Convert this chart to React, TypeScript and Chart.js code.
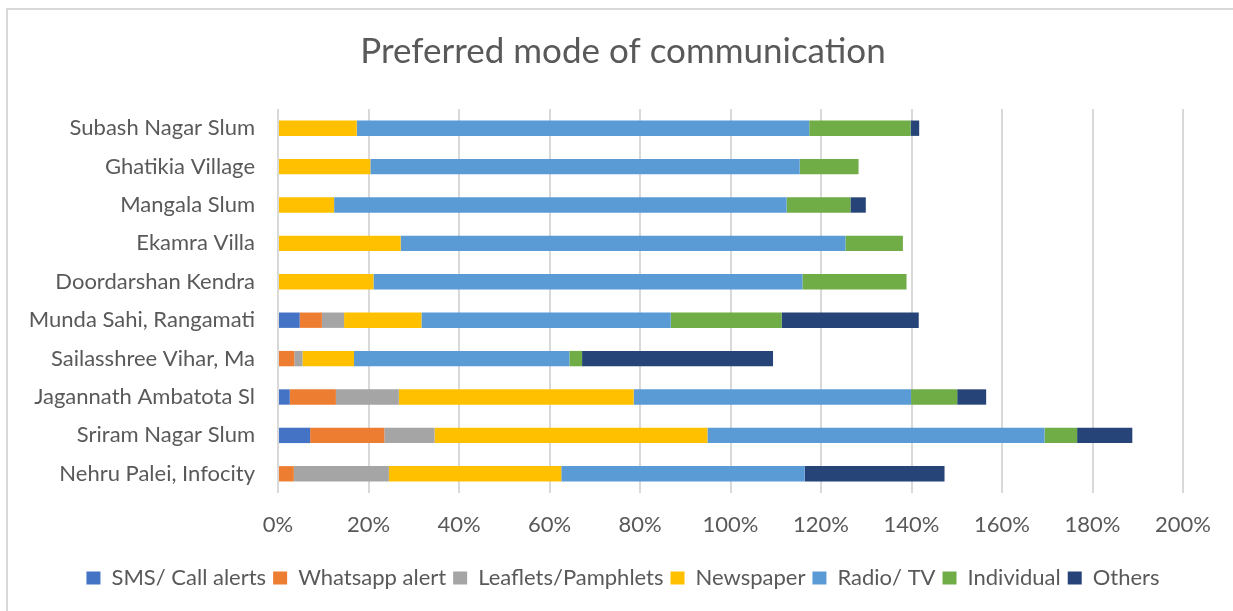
import React, { useEffect, useRef } from "react";
import { Chart, registerables } from "chart.js";

Chart.register(...registerables);

const categories = [
  "Subash Nagar Slum",
  "Ghatikia Village",
  "Mangala Slum",
  "Ekamra Villa",
  "Doordarshan Kendra",
  "Munda Sahi, Rangamati",
  "Sailasshree Vihar, Ma",
  "Jagannath Ambatota Sl",
  "Sriram Nagar Slum",
  "Nehru Palei, Infocity",
];

const smsCall = [0, 0, 0, 0, 0, 4.8, 0, 2.6, 7.1, 0];
const whatsapp = [0, 0, 0, 0, 0, 4.9, 3.6, 10.2, 16.4, 3.5];
const leaflets = [0, 0, 0, 0, 0, 4.9, 1.8, 13.9, 11.1, 21.0];
const newspaper = [17.4, 20.4, 12.4, 27.1, 21.1, 17.1, 11.4, 51.9, 60.3, 38.1];
const radioTv = [100.0, 94.9, 100.0, 98.3, 94.8, 55.1, 47.6, 61.3, 74.5, 53.8];
const individual = [22.4, 13.0, 14.1, 12.7, 23.0, 24.5, 2.8, 10.2, 7.2, 0];
const others = [1.9, 0, 3.4, 0, 0, 30.3, 42.2, 6.4, 12.2, 30.9];

const seriesNames = [
  "SMS/ Call alerts",
  "Whatsapp alert",
  "Leaflets/Pamphlets",
  "Newspaper",
  "Radio/ TV",
  "Individual",
  "Others",
];
const seriesColors = ["#4472C4", "#ED7D31", "#A5A5A5", "#FFC000", "#5B9BD5", "#70AD47", "#264478"];
const seriesValues = [smsCall, whatsapp, leaflets, newspaper, radioTv, individual, others];

const xMax = 200;
const xStep = 20;
const titleText = "Preferred mode of communication";

const FONT = "Lato, 'Liberation Sans', sans-serif";
const TEXT = "#595959";

export default function App() {
  const ref = useRef<HTMLCanvasElement | null>(null);

  useEffect(() => {
    if (!ref.current) return;
    const framePlugin = {
      id: "frame",
      beforeDraw(chart: any) {
        const ctx = chart.ctx;
        ctx.save();
        ctx.fillStyle = "#ffffff";
        ctx.fillRect(0, 0, chart.width, chart.height);
        ctx.strokeStyle = "#d9d9d9";
        ctx.lineWidth = 2;
        ctx.beginPath();
        ctx.moveTo(7, chart.height + 5);
        ctx.lineTo(7, 9);
        ctx.lineTo(chart.width + 5, 9);
        ctx.stroke();
        ctx.restore();
      },
    };
    const chart = new Chart(ref.current, {
      type: "bar",
      data: {
        labels: categories,
        datasets: seriesNames.map((name, i) => ({
          label: name,
          data: seriesValues[i],
          backgroundColor: seriesColors[i],
          borderWidth: 0,
          categoryPercentage: 1,
          barPercentage: 0.4,
        })),
      },
      plugins: [framePlugin],
      options: {
        indexAxis: "y",
        animation: false,
        responsive: true,
        maintainAspectRatio: false,
        layout: { padding: { left: 63, right: 50, top: 8, bottom: 12 } },
        scales: {
          x: {
            stacked: true,
            min: 0,
            max: xMax,
            ticks: {
              stepSize: xStep,
              padding: 19,
              color: TEXT,
              font: { family: FONT, size: 22 },
              callback: (v: any) => v + "%",
            },
            grid: { color: "#d9d9d9", lineWidth: 2, drawTicks: false },
            border: { display: false },
            afterFit: (s: any) => {
              s.height = 67;
            },
          },
          y: {
            stacked: true,
            ticks: {
              padding: 23,
              color: TEXT,
              font: { family: FONT, size: 22 },
              autoSkip: false,
            },
            grid: { display: false, drawTicks: false },
            border: { display: false },
            afterFit: (s: any) => {
              s.width = 215;
              s._computeLabelArea = () => undefined;
            },
          },
        },
        plugins: {
          tooltip: { enabled: false },
          title: {
            display: true,
            text: titleText,
            color: TEXT,
            font: { family: FONT, size: 35, weight: "normal" },
            padding: { top: 23, bottom: 36 },
          },
          legend: {
            position: "bottom",
            labels: {
              boxWidth: 14,
              boxHeight: 13,
              padding: 7,
              color: TEXT,
              font: { family: FONT, size: 22 },
            },
          },
        },
      },
    });
    return () => chart.destroy();
  }, []);

  return (
    <div style={{ position: "fixed", left: 0, top: 0, width: 1233, height: 611, background: "#fff" }}>
      <canvas ref={ref} />
    </div>
  );
}
